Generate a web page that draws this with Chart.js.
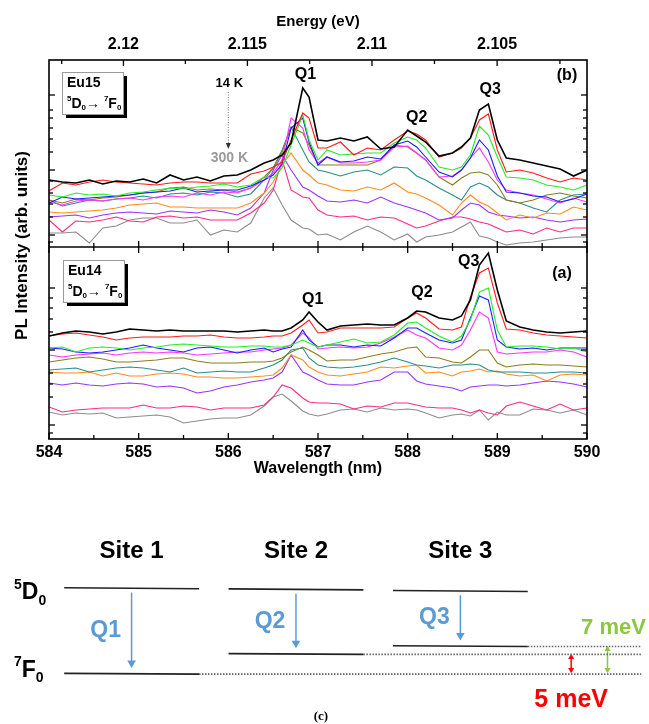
<!DOCTYPE html>
<html>
<head>
<meta charset="utf-8">
<script src="https://cdn.jsdelivr.net/npm/chart.js@4.4.1/dist/chart.umd.min.js"></script>
<style>
  body { margin: 0; background: #fff; }
  #wrap { position: relative; width: 649px; height: 724px; }
  #spectra { position: absolute; left: 0; top: 0; }
  #levels { position: absolute; left: 0; top: 520px; }
</style>
</head>
<body>
<div id="wrap">
  <canvas id="spectra" width="649" height="500"></canvas>
  <canvas id="levels" width="649" height="204"></canvas>
</div>
<script>
// ---- data ----
const wavelengths = [584.0, 584.15, 584.3, 584.45, 584.6, 584.75, 584.9, 585.05, 585.2, 585.35,
  585.5, 585.65, 585.8, 585.95, 586.1, 586.25, 586.4, 586.5, 586.6, 586.7,
  586.83, 586.9, 587.0, 587.1, 587.25, 587.4, 587.55, 587.7, 587.85, 588.0,
  588.1, 588.2, 588.35, 588.5, 588.6, 588.7, 588.8, 588.9, 589.0, 589.1,
  589.25, 589.4, 589.55, 589.7, 589.85, 590.0];

// panel (b) Eu15, 14 K (black) ... 300 K (gray), arb. units
const eu15Black   = [67,65,64,67,63,66,65,68,64,72,67,70,66,71,72,77,84,87,92,104,159,150,107,106,109,106,110,98,100,117,111,105,91,94,100,109,137,143,107,89,87,84,81,78,71,77];
const eu15Red     = [56,64,62,65,67,65,64,63,62,64,65,65,64,64,64,73,76,80,85,107,134,129,99,99,105,92,99,97,107,116,113,107,90,94,99,109,127,133,97,75,77,74,69,65,69,67];
const eu15Green   = [52,50,54,52,53,51,54,55,57,59,58,60,61,63,60,62,70,69,79,102,132,107,87,97,92,93,94,94,104,110,107,99,80,77,80,92,121,112,90,70,69,67,62,60,57,62];
const eu15Blue    = [44,50,48,49,50,51,52,54,55,56,59,55,56,57,57,61,67,72,83,119,129,105,82,90,85,86,90,88,102,106,100,90,75,70,77,89,107,97,71,55,54,51,50,45,48,53];
const eu15Magenta = [45,42,46,47,46,48,49,47,50,51,50,54,52,55,54,59,67,74,87,129,119,97,84,90,84,84,85,87,100,101,94,87,70,71,77,89,99,85,67,57,54,52,48,44,49,45];
const eu15Olive   = [47,44,48,47,49,50,52,54,55,59,60,57,58,57,55,59,70,79,95,120,114,102,82,82,82,82,82,87,102,100,94,87,70,62,69,74,75,72,62,47,44,47,52,54,51,49];
const eu15Teal    = [47,41,44,47,46,48,49,51,49,53,54,52,55,54,50,53,67,79,97,120,97,85,77,75,71,75,77,72,80,79,71,67,59,52,47,60,64,60,52,47,44,39,35,47,52,53];
const eu15Orange  = [35,34,35,36,37,39,42,43,44,40,40,39,39,39,39,44,54,65,82,94,77,72,64,62,57,56,60,57,64,55,53,49,42,32,44,52,45,41,34,27,32,29,34,33,40,37];
const eu15Purple  = [30,31,32,29,32,34,35,34,33,36,35,34,37,35,32,39,54,77,92,77,60,57,51,46,45,47,44,50,44,40,37,34,27,29,37,44,42,35,32,31,29,30,27,25,27,28];
const eu15Pink    = [27,15,26,25,27,30,26,25,30,31,29,30,27,27,27,34,44,57,87,57,50,49,37,32,30,31,27,30,29,23,19,21,26,30,30,28,25,23,19,15,17,13,19,15,19,19];
const eu15Gray    = [14,14,15,4,19,21,27,29,29,24,24,27,12,17,15,24,49,59,42,27,19,18,12,13,7,15,21,15,7,13,5,10,12,15,20,25,11,9,5,2,4,5,7,9,10,10];

// panel (a) Eu14
const eu14Black   = [103,106,108,107,105,107,110,109,108,109,108,108,108,108,107,108,109,108,108,111,119,127,117,109,113,114,115,114,114,121,128,127,121,119,123,139,174,186,149,118,112,109,107,106,107,108];
const eu14Red     = [103,105,106,104,102,99,101,102,102,102,103,103,104,102,101,101,102,103,103,106,114,119,106,107,111,111,111,111,112,121,126,121,110,109,112,142,166,171,136,110,109,106,104,103,102,101];
const eu14Green   = [91,92,87,91,92,91,89,91,92,94,95,94,93,92,92,93,93,92,92,94,99,96,92,94,97,100,96,97,104,116,117,111,103,97,103,119,147,151,109,92,93,93,92,90,91,87];
const eu14Blue    = [91,90,87,86,87,89,91,94,91,89,87,91,92,89,86,89,91,87,90,92,109,99,92,94,94,92,94,93,101,111,111,106,99,96,99,121,143,139,99,92,90,91,89,91,91,91];
const eu14Magenta = [84,82,84,85,86,84,86,87,86,87,86,84,85,86,87,87,89,90,91,94,106,101,90,91,92,91,92,96,102,109,104,101,91,89,94,109,127,121,87,85,86,87,87,89,87,82];
const eu14Olive   = [77,79,81,82,80,77,77,78,79,81,81,78,76,76,76,77,77,78,81,87,92,89,84,78,79,79,82,85,87,91,92,82,81,77,76,82,89,89,76,72,74,75,74,74,73,72];
const eu14Teal    = [69,70,71,67,69,71,72,71,69,67,71,66,67,68,67,67,71,74,79,89,91,81,74,72,71,72,74,77,81,77,74,73,71,74,74,75,74,69,67,67,67,66,66,67,67,66];
const eu14Orange  = [67,66,66,67,63,66,63,63,65,66,65,62,62,61,61,62,63,64,71,84,79,72,67,64,63,65,67,72,71,73,74,66,67,63,67,68,70,67,68,65,63,64,58,64,65,64];
const eu14Purple  = [56,54,56,54,53,55,56,55,52,53,51,46,48,52,54,57,59,61,67,84,67,64,59,55,54,54,57,59,67,67,58,55,53,51,48,52,53,54,54,53,54,56,58,57,55,52];
const eu14Pink    = [32,27,29,30,31,31,31,34,31,31,33,32,29,31,31,31,34,42,54,51,41,37,36,36,35,30,33,32,36,36,34,32,31,31,29,26,29,26,24,33,37,33,29,35,29,31];
const eu14Gray    = [27,24,26,25,26,21,22,23,24,22,16,18,20,21,21,24,33,42,45,38,28,25,23,25,29,30,27,31,29,30,29,26,21,24,25,23,29,19,27,24,24,30,29,26,29,24];

const seriesColors = ['#000000', '#ff1a1a', '#22ee22', '#1a1aff', '#ff33ff', '#8c7d1e', '#2a8c8c', '#ff8c1a', '#9933ff', '#ff2a85', '#8c8c8c'];
const eu15Series = [eu15Black, eu15Red, eu15Green, eu15Blue, eu15Magenta, eu15Olive, eu15Teal, eu15Orange, eu15Purple, eu15Pink, eu15Gray];
const eu14Series = [eu14Black, eu14Red, eu14Green, eu14Blue, eu14Magenta, eu14Olive, eu14Teal, eu14Orange, eu14Purple, eu14Pink, eu14Gray];

// axes
const hc = 1239.84; // eV nm
const energyMajor = [2.12, 2.115, 2.11, 2.105];
const energyMinor = [2.1225, 2.1175, 2.1125, 2.1075, 2.1025];
const wlMajor = [584, 585, 586, 587, 588, 589, 590];
const wlMinor = [584.5, 585.5, 586.5, 587.5, 588.5, 589.5];
const topMajorTicks = [12, 77, 152];
const topMinorTicks = [5, 30, 43, 54, 66, 95, 108, 119, 129, 137];
const botMajorTicks = [14, 89, 151];
const botMinorTicks = [6, 42, 55, 66, 107, 120, 131, 141];

// peak labels: [text, wavelength, intensity]
const eu15Peaks = [['Q1', 586.86, 172], ['Q2', 588.1, 129], ['Q3', 588.92, 157]];
const eu14Peaks = [['Q1', 586.94, 139], ['Q2', 588.16, 146], ['Q3', 588.68, 177]];

// energy level scheme (meV, relative to 7F0 of site 1)
const siteNames = ['Site 1', 'Site 2', 'Site 3'];
const sitePositions = [1, 2, 3];
const upperLevels = [21.7, 21.4, 21.0];
const lowerLevels = [0, 5, 7];
const transitionNames = ['Q1', 'Q2', 'Q3'];

const FONT = 'Arial, "Liberation Sans", Helvetica, sans-serif';
Chart.defaults.font.family = FONT;
Chart.defaults.color = '#000';

function line(ctx, x1, y1, x2, y2) {
  ctx.beginPath(); ctx.moveTo(x1, y1); ctx.lineTo(x2, y2); ctx.stroke();
}

function transitionText(ctx, x, y) {
  const big = 'bold 14px ' + FONT, small = 'bold 8px ' + FONT;
  const parts = [['5', small, -5], ['D', big, 0], ['0', small, 4], ['\u2192', big, 0], [' ', big, 0],
                 ['7', small, -5], ['F', big, 0], ['0', small, 4]];
  for (const [t, f, dy] of parts) {
    ctx.font = f; ctx.fillText(t, x, y + dy); x += ctx.measureText(t).width;
  }
}

function sampleBox(ctx, x, y, name) {
  ctx.fillStyle = '#000'; ctx.fillRect(x + 4, y + 4, 61, 42);
  ctx.fillStyle = '#fff'; ctx.fillRect(x, y, 61, 42);
  ctx.strokeStyle = '#9a9a9a'; ctx.lineWidth = 1; ctx.strokeRect(x + 0.5, y + 0.5, 61, 42);
  ctx.fillStyle = '#000'; ctx.textAlign = 'left'; ctx.textBaseline = 'middle';
  ctx.font = 'bold 14px ' + FONT;
  ctx.fillText(name, x + 5, y + 11);
  transitionText(ctx, x + 5, y + 32);
}

const spectraDecor = {
  id: 'spectraDecor',
  afterDraw(chart) {
    const { ctx, chartArea: a, scales } = chart;
    const { x, yTop, yBot } = scales;
    const mid = yTop.bottom;
    ctx.save();
    ctx.strokeStyle = '#000';
    ctx.lineWidth = 1.6;
    ctx.strokeRect(a.left, a.top, a.right - a.left, a.bottom - a.top);
    line(ctx, a.left, mid, a.right, mid);

    ctx.lineWidth = 1.3;
    const ticksX = (vals, len) => vals.forEach(v => {
      const p = x.getPixelForValue(v);
      line(ctx, p, a.bottom, p, a.bottom - len);
      line(ctx, p, mid - len, p, mid + len);
    });
    ticksX(wlMajor, 6); ticksX(wlMinor, 4);
    energyMajor.forEach(e => { const p = x.getPixelForValue(hc / e); line(ctx, p, a.top, p, a.top + 6); });
    energyMinor.forEach(e => { const p = x.getPixelForValue(hc / e); line(ctx, p, a.top, p, a.top + 4); });
    [[yTop, topMajorTicks, 6], [yTop, topMinorTicks, 4], [yBot, botMajorTicks, 6], [yBot, botMinorTicks, 4]]
      .forEach(([s, vals, len]) => vals.forEach(v => {
        const p = s.getPixelForValue(v);
        line(ctx, a.left, p, a.left + len, p);
        line(ctx, a.right, p, a.right - len, p);
      }));

    // y title spanning both panels
    ctx.save();
    ctx.translate(22, (a.top + a.bottom) / 2 - 4);
    ctx.rotate(-Math.PI / 2);
    ctx.font = 'bold 17px ' + FONT; ctx.fillStyle = '#000';
    ctx.textAlign = 'center'; ctx.textBaseline = 'middle';
    ctx.fillText('PL Intensity (arb. units)', 0, 0);
    ctx.restore();

    // sample boxes
    sampleBox(ctx, a.left + 13, yTop.top + 12, 'Eu15');
    sampleBox(ctx, a.left + 14, yBot.top + 13, 'Eu14');

    // peak labels and panel letters
    ctx.fillStyle = '#000'; ctx.textAlign = 'center'; ctx.textBaseline = 'middle';
    ctx.font = 'bold 16px ' + FONT;
    eu15Peaks.forEach(([t, w, v]) => ctx.fillText(t, x.getPixelForValue(w), yTop.getPixelForValue(v)));
    eu14Peaks.forEach(([t, w, v]) => ctx.fillText(t, x.getPixelForValue(w), yBot.getPixelForValue(v)));
    ctx.fillText('(b)', a.right - 20, yTop.top + 16);
    ctx.fillText('(a)', a.right - 25, yBot.top + 27);

    // temperature arrow
    const tx = x.getPixelForValue(586.0);
    ctx.font = 'bold 13px ' + FONT;
    ctx.fillText('14 K', tx + 1, yTop.top + 23);
    ctx.fillStyle = '#9a9a9a'; ctx.font = 'bold 14px ' + FONT;
    ctx.fillText('300 K', tx + 1, yTop.top + 98);
    ctx.strokeStyle = '#777'; ctx.lineWidth = 1; ctx.setLineDash([1, 1.5]);
    line(ctx, tx, yTop.top + 32, tx, yTop.top + 84);
    ctx.setLineDash([]);
    ctx.fillStyle = '#333';
    ctx.beginPath(); ctx.moveTo(tx - 2.5, yTop.top + 83); ctx.lineTo(tx + 2.5, yTop.top + 83); ctx.lineTo(tx, yTop.top + 89); ctx.closePath(); ctx.fill();
    ctx.restore();
  }
};

const datasets = [];
eu15Series.forEach((vals, i) => datasets.push({
  label: 'Eu15 ' + (i + 1), yAxisID: 'yTop',
  data: wavelengths.map((w, k) => ({ x: w, y: vals[k] })),
  borderColor: seriesColors[i], borderWidth: i === 0 ? 1.6 : 1.1, pointRadius: 0
}));
eu14Series.forEach((vals, i) => datasets.push({
  label: 'Eu14 ' + (i + 1), yAxisID: 'yBot',
  data: wavelengths.map((w, k) => ({ x: w, y: vals[k] })),
  borderColor: seriesColors[i], borderWidth: i === 0 ? 1.6 : 1.1, pointRadius: 0
}));

const tickFont = { size: 16, weight: 'bold' };

new Chart(document.getElementById('spectra'), {
  type: 'line',
  data: { datasets },
  options: {
    responsive: false, animation: false,
    layout: { padding: { left: 0, right: 62, top: 13, bottom: 22 } },
    plugins: { legend: { display: false }, tooltip: { enabled: false } },
    scales: {
      x: {
        type: 'linear', position: 'bottom', min: 584, max: 590,
        grid: { display: false, drawTicks: false }, border: { display: false },
        ticks: { stepSize: 1, font: tickFont, padding: 4, maxRotation: 0 },
        title: { display: true, text: 'Wavelength (nm)', font: { size: 16, weight: 'bold' }, padding: 0 },
        afterFit: s => { s.height = 39; }
      },
      xTop: {
        type: 'linear', position: 'top', min: 584, max: 590,
        grid: { display: false, drawTicks: false }, border: { display: false },
        afterBuildTicks: s => { s.ticks = energyMajor.map(e => ({ value: hc / e })); },
        ticks: { font: tickFont, padding: 6, autoSkip: false, maxRotation: 0,
                 callback: v => String(+(hc / v).toFixed(3)) },
        title: { display: true, text: 'Energy (eV)', font: { size: 15, weight: 'bold' }, padding: 0 },
        afterFit: s => { s.height = 47; }
      },
      yBot: {
        type: 'linear', position: 'left', stack: 'panels', stackWeight: 192, min: 0, max: 192,
        grid: { display: false, drawTicks: false }, border: { display: false },
        ticks: { display: false },
        afterFit: s => { s.width = 49; }
      },
      yTop: {
        type: 'linear', position: 'left', stack: 'panels', stackWeight: 187, min: 0, max: 187,
        grid: { display: false, drawTicks: false }, border: { display: false },
        ticks: { display: false },
        afterFit: s => { s.width = 49; }
      }
    }
  },
  plugins: [spectraDecor]
});

// ---- energy level scheme (c) ----
const blue = '#5b9bd5', red = '#ff0000', green = '#8dc63f';
const half = 0.41, dotEnd = 4.1;
const redX = 3.674, greenX = 3.895;
const levelSets = [];
sitePositions.forEach((s, i) => {
  levelSets.push({ data: [{ x: s - half, y: upperLevels[i] }, { x: s + half, y: upperLevels[i] - 0.25 }],
                   borderColor: '#222', borderWidth: 1.6, pointRadius: 0 });
  levelSets.push({ data: [{ x: s - half, y: lowerLevels[i] }, { x: s + half, y: lowerLevels[i] - 0.2 }],
                   borderColor: '#222', borderWidth: 1.6, pointRadius: 0 });
  levelSets.push({ data: [{ x: s + half, y: lowerLevels[i] - 0.2 }, { x: dotEnd, y: lowerLevels[i] - 0.2 }],
                   borderColor: '#666', borderWidth: 1.6, borderDash: [1.5, 1.5], pointRadius: 0 });
  levelSets.push({ data: [{ x: s, y: upperLevels[i] - 1.2 }, { x: s, y: lowerLevels[i] + 2.6 }],
                   borderColor: blue, borderWidth: 1.5, pointRadius: [0, 5], pointStyle: 'triangle',
                   rotation: 180, pointBackgroundColor: blue, pointBorderColor: blue, pointBorderWidth: 0 });
});
levelSets.push({ data: [{ x: redX, y: lowerLevels[0] + 0.9 }, { x: redX, y: lowerLevels[1] - 0.9 }],
                 borderColor: red, borderWidth: 1.5, pointRadius: 3.5, pointStyle: 'triangle',
                 rotation: [180, 0], pointBackgroundColor: red, pointBorderColor: red, pointBorderWidth: 0 });
levelSets.push({ data: [{ x: greenX, y: lowerLevels[0] + 0.9 }, { x: greenX, y: lowerLevels[2] - 0.9 }],
                 borderColor: green, borderWidth: 1.5, pointRadius: 3.5, pointStyle: 'triangle',
                 rotation: [180, 0], pointBackgroundColor: green, pointBorderColor: green, pointBorderWidth: 0 });

function stateLabel(ctx, x, y, sup, letter) {
  ctx.textAlign = 'left'; ctx.textBaseline = 'middle';
  ctx.font = 'bold 14px ' + FONT; ctx.fillText(sup, x, y - 8);
  x += ctx.measureText(sup).width;
  ctx.font = 'bold 23px ' + FONT; ctx.fillText(letter, x, y);
  x += ctx.measureText(letter).width;
  ctx.font = 'bold 14px ' + FONT; ctx.fillText('0', x, y + 8);
}

const levelText = {
  id: 'levelText',
  afterDraw(chart) {
    const { ctx, scales: { x, y } } = chart;
    ctx.save();
    ctx.fillStyle = '#000'; ctx.textAlign = 'center'; ctx.textBaseline = 'middle';
    ctx.font = 'bold 24px ' + FONT;
    siteNames.forEach((n, i) => ctx.fillText(n, x.getPixelForValue(sitePositions[i]), y.getPixelForValue(30.8)));
    stateLabel(ctx, x.getPixelForValue(0.23) + 9, y.getPixelForValue(upperLevels[0]) + 5, '5', 'D');
    stateLabel(ctx, x.getPixelForValue(0.23) + 9, y.getPixelForValue(lowerLevels[0]) - 3, '7', 'F');
    ctx.textAlign = 'center';
    ctx.fillStyle = blue; ctx.font = 'bold 23px ' + FONT;
    transitionNames.forEach((t, i) => {
      const midY = (y.getPixelForValue(upperLevels[i]) + y.getPixelForValue(lowerLevels[i])) / 2;
      ctx.fillText(t, x.getPixelForValue(sitePositions[i]) - 26, midY);
    });
    ctx.fillStyle = green; ctx.font = 'bold 22px ' + FONT;
    ctx.fillText(lowerLevels[2] + ' meV', x.getPixelForValue(greenX) + 6, y.getPixelForValue(lowerLevels[2] + 4.6));
    ctx.fillStyle = red; ctx.font = 'bold 25px ' + FONT;
    ctx.fillText(lowerLevels[1] + ' meV', x.getPixelForValue(redX), y.getPixelForValue(-6.8));
    ctx.fillStyle = '#000'; ctx.font = 'bold 13px "Times New Roman", "Liberation Serif", serif';
    ctx.fillText('(c)', x.getPixelForValue(2.152), y.getPixelForValue(-10.9));
    ctx.restore();
  }
};

new Chart(document.getElementById('levels'), {
  type: 'scatter',
  data: { datasets: levelSets.map(d => Object.assign({ showLine: true }, d)) },
  options: {
    responsive: false, animation: false,
    layout: { padding: 0 },
    plugins: { legend: { display: false }, tooltip: { enabled: false } },
    scales: {
      x: { type: 'linear', display: false, min: 0.23, max: 4.117 },
      y: { type: 'linear', display: false, min: -11.57, max: 37.59 }
    }
  },
  plugins: [levelText]
});
</script>
</body>
</html>
